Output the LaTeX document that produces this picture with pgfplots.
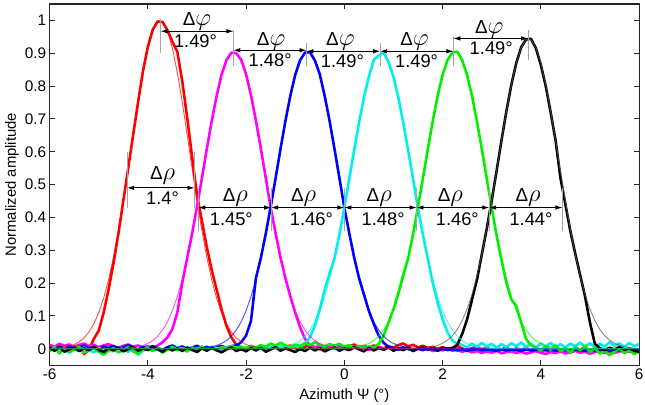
\documentclass[border=0pt]{standalone}
\usepackage{pgfplots}
\pgfplotsset{compat=1.18}
\usepackage{pgfplotstable}
\usepackage{fontspec}
\setmainfont{Liberation Sans}
\usetikzlibrary{arrows.meta}

% measured beams (normalized), one column per beam
\pgfplotstableread{
x r m b c g k
-6.0 0.008 0.012 0.003 -0.006 -0.008 0.002
-5.9 0.003 0.006 -0.004 0.004 0.005 -0.006
-5.8 0.010 0.015 0.006 -0.010 -0.014 0.005
-5.7 0.002 0.009 0.000 -0.002 0.002 -0.009
-5.6 -0.003 0.013 0.008 -0.012 -0.010 -0.002
-5.5 0.006 0.004 -0.002 0.001 -0.003 0.004
-5.4 0.012 0.011 0.004 -0.007 0.006 -0.007
-5.3 -0.016 0.016 0.010 0.003 -0.012 0.001
-5.2 -0.004 0.008 0.001 -0.004 -0.004 -0.004
-5.1 0.030 0.012 0.005 -0.011 0.003 0.006
-5.0 0.055 0.005 -0.003 0.002 -0.009 -0.003
-4.9 0.110 0.010 0.007 -0.005 -0.018 -0.010
-4.8 0.180 0.014 0.002 -0.001 -0.006 0.002
-4.7 0.260 0.007 0.009 -0.008 0.002 -0.005
-4.6 0.350 0.003 -0.001 0.004 -0.011 0.004
-4.5 0.450 0.009 0.004 -0.003 -0.004 -0.008
-4.4 0.550 0.013 0.011 -0.009 0.005 -0.001
-4.3 0.650 0.006 0.003 0.000 -0.008 0.005
-4.2 0.750 0.010 -0.002 -0.018 -0.015 -0.006
-4.1 0.845 0.004 0.006 -0.006 -0.002 0.001
-4.0 0.920 0.008 0.001 0.003 0.004 -0.004
-3.9 0.972 0.002 0.008 -0.004 -0.007 0.006
-3.8 0.997 0.010 0.002 0.001 0.001 -0.002
-3.7 0.995 0.020 -0.003 -0.007 -0.012 -0.009
-3.6 0.970 0.035 0.005 0.002 -0.003 0.003
-3.5 0.935 0.060 0.010 -0.003 0.006 -0.005
-3.4 0.905 0.110 0.003 0.005 -0.005 0.002
-3.3 0.815 0.200 0.007 -0.002 0.002 -0.007
-3.2 0.705 0.276 -0.001 0.003 -0.009 0.004
-3.1 0.585 0.350 0.004 -0.005 0.004 -0.003
-3.0 0.468 0.432 0.009 0.001 -0.002 -0.010
-2.9 0.390 0.519 0.002 0.004 0.007 0.001
-2.8 0.310 0.608 0.006 -0.002 -0.004 -0.006
-2.7 0.240 0.693 0.001 0.006 0.003 0.003
-2.6 0.180 0.770 0.005 0.002 -0.006 -0.004
-2.5 0.120 0.834 0.008 -0.001 0.005 -0.011
-2.4 0.070 0.879 0.003 0.005 0.001 -0.002
-2.3 0.035 0.902 0.008 0.001 0.008 0.004
-2.2 0.012 0.900 0.010 0.004 0.003 -0.007
-2.1 0.004 0.880 0.020 -0.002 0.006 -0.001
-2.0 -0.002 0.836 0.040 0.003 0.002 -0.008
-1.9 0.006 0.772 0.085 0.006 0.009 0.002
-1.8 0.001 0.695 0.215 0.001 0.004 -0.005
-1.7 0.009 0.610 0.276 0.004 0.011 0.003
-1.6 -0.004 0.521 0.350 -0.001 0.006 -0.009
-1.5 0.003 0.430 0.432 0.005 0.016 -0.002
-1.4 0.007 0.352 0.519 0.002 0.009 0.005
-1.3 -0.001 0.278 0.608 0.007 0.018 -0.006
-1.2 0.005 0.215 0.693 0.003 0.010 0.001
-1.1 0.010 0.160 0.770 0.005 0.005 -0.004
-1.0 0.002 0.110 0.834 0.008 0.013 -0.010
-0.9 -0.003 0.065 0.879 0.006 0.008 0.000
-0.8 0.006 0.030 0.902 0.015 0.017 -0.007
-0.7 0.012 0.010 0.903 0.035 0.011 0.003
-0.6 0.004 0.004 0.878 0.070 0.020 -0.005
-0.5 -0.002 0.009 0.836 0.120 0.012 0.002
-0.4 0.008 -0.002 0.770 0.180 0.007 -0.008
-0.3 0.003 0.006 0.694 0.230 0.014 -0.001
-0.2 0.011 0.001 0.608 0.275 0.009 0.004
-0.1 0.005 0.008 0.520 0.348 0.015 -0.006
0.0 -0.001 0.003 0.430 0.429 0.006 0.001
0.1 0.007 -0.004 0.352 0.517 0.011 -0.004
0.2 0.013 0.005 0.278 0.605 0.004 0.005
0.3 0.004 0.000 0.215 0.689 0.009 -0.002
0.4 0.009 0.007 0.165 0.766 0.002 -0.008
0.5 0.002 -0.003 0.115 0.829 0.007 0.003
0.6 0.010 0.002 0.075 0.880 0.003 -0.005
0.7 0.006 0.006 0.040 0.893 0.015 0.002
0.8 0.001 -0.001 0.018 0.902 0.040 -0.003
0.9 0.008 0.004 0.006 0.872 0.080 0.004
1.0 0.003 -0.005 0.002 0.828 0.120 -0.006
1.1 0.011 0.001 -0.003 0.765 0.170 0.001
1.2 0.016 -0.002 0.004 0.688 0.225 -0.004
1.3 0.007 0.003 -0.001 0.604 0.276 0.003
1.4 0.012 -0.006 -0.005 0.516 0.350 -0.007
1.5 0.004 0.000 0.001 0.428 0.432 0.000
1.6 0.009 -0.004 -0.004 0.347 0.519 0.004
1.7 0.002 0.002 0.003 0.274 0.608 -0.003
1.8 0.006 -0.007 -0.002 0.200 0.693 0.002
1.9 0.000 -0.002 -0.006 0.140 0.770 -0.005
2.0 0.005 -0.005 0.000 0.090 0.834 0.003
2.1 -0.002 0.001 -0.004 0.050 0.879 0.000
2.2 0.003 -0.006 -0.001 0.025 0.902 0.002
2.3 0.008 -0.003 -0.005 0.015 0.905 0.012
2.4 0.001 -0.009 -0.002 0.012 0.878 0.045
2.5 -0.004 -0.005 -0.006 0.004 0.833 0.090
2.6 0.002 -0.011 -0.003 0.016 0.770 0.150
2.7 0.006 -0.007 -0.001 0.006 0.692 0.210
2.8 -0.001 -0.013 -0.005 0.018 0.607 0.288
2.9 0.003 -0.008 -0.002 0.007 0.518 0.366
3.0 -0.005 -0.012 -0.004 0.015 0.430 0.451
3.1 0.002 -0.006 -0.006 0.003 0.345 0.542
3.2 -0.002 -0.014 -0.003 0.014 0.270 0.635
3.3 0.004 -0.010 -0.005 0.005 0.200 0.724
3.4 -0.006 -0.008 -0.002 0.017 0.150 0.804
3.5 0.001 -0.013 -0.004 0.008 0.130 0.870
3.6 -0.003 -0.009 -0.006 0.019 0.080 0.918
3.7 0.002 -0.015 -0.003 0.006 0.030 0.942
3.8 -0.004 -0.011 -0.005 0.015 0.010 0.944
3.9 0.000 -0.007 -0.004 0.004 0.004 0.915
4.0 -0.007 -0.012 -0.002 0.016 -0.006 0.865
4.1 -0.002 -0.016 -0.005 0.007 0.008 0.800
4.2 -0.009 -0.010 -0.003 0.018 -0.003 0.720
4.3 -0.004 -0.013 -0.006 0.005 0.010 0.635
4.4 -0.010 -0.008 -0.004 0.014 -0.008 0.520
4.5 -0.006 -0.014 -0.002 0.003 0.002 0.440
4.6 -0.012 -0.011 -0.005 0.016 -0.012 0.360
4.7 -0.005 -0.006 -0.003 0.008 0.005 0.290
4.8 -0.009 -0.012 -0.004 0.019 -0.004 0.225
4.9 -0.003 -0.009 -0.006 0.006 0.009 0.160
5.0 -0.008 -0.015 -0.003 0.017 -0.010 0.080
5.1 -0.001 -0.010 -0.005 0.004 0.003 0.015
5.2 -0.006 -0.007 -0.002 0.015 -0.015 0.002
5.3 -0.011 -0.013 -0.004 0.007 -0.006 -0.004
5.4 -0.004 -0.009 -0.006 0.020 -0.020 0.003
5.5 -0.013 -0.012 -0.003 0.009 -0.009 -0.002
5.6 -0.007 -0.006 -0.005 0.016 0.002 0.005
5.7 -0.002 -0.011 -0.004 0.005 -0.013 -0.003
5.8 -0.009 -0.008 -0.002 0.018 -0.005 0.001
5.9 -0.004 -0.010 -0.005 0.008 -0.016 -0.006
6.0 -0.010 -0.007 -0.003 0.014 -0.008 -0.010
}\meas

% fitted beam patterns
\pgfplotstableread{
x r m b c g k
-6.0 0.001 0 0 0 0 0
-5.9 0.001 0 0 0 0 0
-5.8 0.003 0 0 0 0 0
-5.7 0.005 0 0 0 0 0
-5.6 0.008 0 0 0 0 0
-5.5 0.013 0 0 0 0 0
-5.4 0.021 0 0 0 0 0
-5.3 0.033 0 0 0 0 0
-5.2 0.051 0 0 0 0 0
-5.1 0.076 0 0 0 0 0
-5.0 0.110 0 0 0 0 0
-4.9 0.154 0 0 0 0 0
-4.8 0.210 0 0 0 0 0
-4.7 0.279 0 0 0 0 0
-4.6 0.360 0.001 0 0 0 0
-4.5 0.451 0.001 0 0 0 0
-4.4 0.550 0.002 0 0 0 0
-4.3 0.652 0.004 0 0 0 0
-4.2 0.751 0.006 0 0 0 0
-4.1 0.841 0.010 0 0 0 0
-4.0 0.915 0.016 0 0 0 0
-3.9 0.969 0.025 0 0 0 0
-3.8 0.997 0.038 0 0 0 0
-3.7 0.997 0.057 0 0 0 0
-3.6 0.969 0.082 0 0 0 0
-3.5 0.915 0.116 0 0 0 0
-3.4 0.841 0.159 0 0 0 0
-3.3 0.751 0.212 0 0 0 0
-3.2 0.652 0.276 0 0 0 0
-3.1 0.550 0.350 0.001 0 0 0
-3.0 0.451 0.432 0.001 0 0 0
-2.9 0.360 0.519 0.002 0 0 0
-2.8 0.279 0.608 0.004 0 0 0
-2.7 0.210 0.693 0.006 0 0 0
-2.6 0.154 0.770 0.010 0 0 0
-2.5 0.110 0.834 0.016 0 0 0
-2.4 0.076 0.879 0.025 0 0 0
-2.3 0.051 0.902 0.038 0 0 0
-2.2 0.033 0.902 0.057 0 0 0
-2.1 0.021 0.879 0.082 0 0 0
-2.0 0.013 0.834 0.116 0 0 0
-1.9 0.008 0.770 0.159 0 0 0
-1.8 0.005 0.693 0.212 0 0 0
-1.7 0.003 0.608 0.276 0 0 0
-1.6 0.001 0.519 0.350 0.001 0 0
-1.5 0.001 0.432 0.432 0.001 0 0
-1.4 0 0.350 0.519 0.002 0 0
-1.3 0 0.276 0.608 0.004 0 0
-1.2 0 0.212 0.693 0.006 0 0
-1.1 0 0.159 0.770 0.010 0 0
-1.0 0 0.116 0.834 0.016 0 0
-0.9 0 0.082 0.879 0.025 0 0
-0.8 0 0.057 0.902 0.038 0 0
-0.7 0 0.038 0.902 0.057 0 0
-0.6 0 0.025 0.879 0.082 0 0
-0.5 0 0.016 0.834 0.115 0 0
-0.4 0 0.010 0.770 0.158 0 0
-0.3 0 0.006 0.693 0.211 0 0
-0.2 0 0.004 0.608 0.275 0 0
-0.1 0 0.002 0.519 0.348 0.001 0
0.0 0 0.001 0.432 0.429 0.001 0
0.1 0 0.001 0.350 0.516 0.002 0
0.2 0 0 0.276 0.605 0.004 0
0.3 0 0 0.212 0.689 0.006 0
0.4 0 0 0.159 0.766 0.010 0
0.5 0 0 0.116 0.829 0.016 0
0.6 0 0 0.082 0.874 0.025 0
0.7 0 0 0.057 0.897 0.038 0
0.8 0 0 0.038 0.897 0.057 0
0.9 0 0 0.025 0.874 0.082 0
1.0 0 0 0.016 0.829 0.116 0
1.1 0 0 0.010 0.766 0.159 0
1.2 0 0 0.006 0.689 0.212 0
1.3 0 0 0.004 0.605 0.276 0
1.4 0 0 0.002 0.516 0.350 0.001
1.5 0 0 0.001 0.429 0.432 0.001
1.6 0 0 0.001 0.348 0.519 0.002
1.7 0 0 0 0.275 0.608 0.004
1.8 0 0 0 0.211 0.693 0.006
1.9 0 0 0 0.158 0.770 0.010
2.0 0 0 0 0.115 0.834 0.017
2.1 0 0 0 0.082 0.879 0.026
2.2 0 0 0 0.057 0.902 0.040
2.3 0 0 0 0.038 0.902 0.059
2.4 0 0 0 0.025 0.879 0.086
2.5 0 0 0 0.016 0.834 0.121
2.6 0 0 0 0.010 0.770 0.166
2.7 0 0 0 0.006 0.693 0.222
2.8 0 0 0 0.004 0.608 0.288
2.9 0 0 0 0.002 0.519 0.365
3.0 0 0 0 0.001 0.432 0.451
3.1 0 0 0 0.001 0.350 0.542
3.2 0 0 0 0 0.276 0.635
3.3 0 0 0 0 0.212 0.724
3.4 0 0 0 0 0.159 0.804
3.5 0 0 0 0 0.116 0.870
3.6 0 0 0 0 0.082 0.917
3.7 0 0 0 0 0.057 0.942
3.8 0 0 0 0 0.038 0.942
3.9 0 0 0 0 0.025 0.917
4.0 0 0 0 0 0.016 0.870
4.1 0 0 0 0 0.010 0.804
4.2 0 0 0 0 0.006 0.724
4.3 0 0 0 0 0.004 0.635
4.4 0 0 0 0 0.002 0.542
4.5 0 0 0 0 0.001 0.451
4.6 0 0 0 0 0.001 0.365
4.7 0 0 0 0 0 0.288
4.8 0 0 0 0 0 0.222
4.9 0 0 0 0 0 0.166
5.0 0 0 0 0 0 0.121
5.1 0 0 0 0 0 0.086
5.2 0 0 0 0 0 0.059
5.3 0 0 0 0 0 0.040
5.4 0 0 0 0 0 0.026
5.5 0 0 0 0 0 0.017
5.6 0 0 0 0 0 0.010
5.7 0 0 0 0 0 0.006
5.8 0 0 0 0 0 0.004
5.9 0 0 0 0 0 0.002
6.0 0 0 0 0 0 0.001
}\fits

\definecolor{mred}{RGB}{255,0,0}
\definecolor{mmag}{RGB}{255,0,255}
\definecolor{mblue}{RGB}{0,0,255}
\definecolor{mcyan}{RGB}{0,238,238}
\definecolor{mgreen}{RGB}{0,240,0}
\definecolor{mblack}{RGB}{0,0,0}

\newcommand{\dphi}{{\fontsize{19}{21}\selectfont Δ}{\fontsize{25}{27}\selectfont$\varphi$}}
\newcommand{\drho}{{\fontsize{19}{21}\selectfont Δ}{\fontsize{25}{27}\selectfont$\rho$}}

\tikzset{
  meas/.style={line width=2.6bp, line join=round},
  fit/.style={line width=0.9bp, opacity=0.7},
  dim/.style={{Latex[length=7bp,width=4.5bp]}-{Latex[length=7bp,width=4.5bp]}, line width=0.8bp, black},
  guide/.style={gray!70, line width=0.4bp},
  big/.style={font=\fontsize{18.5}{20}\selectfont, inner sep=0pt},
}

\begin{document}
\begin{tikzpicture}
\useasboundingbox (-50bp,-40bp) rectangle (600bp,368bp);
\begin{axis}[
  at={(0,0)}, anchor=south west,
  width=594bp, height=364bp, scale only axis,
  xmin=-6, xmax=6, ymin=-0.05, ymax=1.05,
  xtick={-6,-4,-2,0,2,4,6},
  ytick={0,0.1,0.2,0.3,0.4,0.5,0.6,0.7,0.8,0.9,1},
  yticklabels={0,0.1,0.2,0.3,0.4,0.5,0.6,0.7,0.8,0.9,1},
  tick align=inside, xtick pos=both, ytick pos=both,
  major tick length=5bp,
  axis line style={line width=1.1bp, black!85},
  tick style={line width=0.9bp, black!85},
  /pgf/number format/assume math mode=true,
  ticklabel style={font=\fontsize{15.5}{17}\selectfont},
  xlabel={Azimuth Ψ (°)},
  ylabel={Normalized amplitude},
  label style={font=\fontsize{15}{17}\selectfont},
  xlabel style={yshift=-2bp},
  ylabel style={yshift=-1bp},
  clip=true,
]
% measured
\addplot[meas, mred]   table[x=x, y=r] {\meas};
\addplot[meas, mmag]   table[x=x, y=m] {\meas};
\addplot[meas, mblue]  table[x=x, y=b] {\meas};
\addplot[meas, mcyan]  table[x=x, y=c] {\meas};
\addplot[meas, mgreen] table[x=x, y=g] {\meas};
\addplot[meas, mblack] table[x=x, y=k] {\meas};
% fits
\addplot[fit, mred]   table[x=x, y=r] {\fits};
\addplot[fit, mmag]   table[x=x, y=m] {\fits};
\addplot[fit, mblue]  table[x=x, y=b] {\fits};
\addplot[fit, mcyan]  table[x=x, y=c] {\fits};
\addplot[fit, mgreen] table[x=x, y=g] {\fits};
\addplot[fit, black!65] table[x=x, y=k] {\fits};

% guide lines at peaks
\draw[guide] (axis cs:-3.74,0.90) -- (axis cs:-3.74,1.005);
\draw[guide] (axis cs:-2.26,0.86) -- (axis cs:-2.26,0.97);
\draw[guide] (axis cs:-0.77,0.86) -- (axis cs:-0.77,0.93);
\draw[guide] (axis cs:0.73,0.86) -- (axis cs:0.73,0.93);
\draw[guide] (axis cs:2.22,0.86) -- (axis cs:2.22,0.95);
\draw[guide] (axis cs:3.74,0.88) -- (axis cs:3.74,0.97);
% guide lines at crossings
\draw[guide] (axis cs:-4.42,0.43) -- (axis cs:-4.42,0.60);
\draw[guide] (axis cs:-3.05,0.43) -- (axis cs:-3.05,0.60);
\draw[guide] (axis cs:-2.97,0.36) -- (axis cs:-2.97,0.49);
\draw[guide] (axis cs:-1.49,0.36) -- (axis cs:-1.49,0.49);
\draw[guide] (axis cs:0.0,0.36) -- (axis cs:0.0,0.49);
\draw[guide] (axis cs:1.47,0.36) -- (axis cs:1.47,0.49);
\draw[guide] (axis cs:2.95,0.36) -- (axis cs:2.95,0.49);
\draw[guide] (axis cs:4.44,0.36) -- (axis cs:4.44,0.49);

% peak spacing
\draw[dim] (axis cs:-3.74,0.967) -- (axis cs:-2.26,0.967);
\node[big, anchor=base] at (axis cs:-3.00,0.983) {\dphi};
\node[big, anchor=base] at (axis cs:-3.03,0.918) {1.49°};
\draw[dim] (axis cs:-2.26,0.909) -- (axis cs:-0.77,0.909);
\node[big, anchor=base] at (axis cs:-1.49,0.925) {\dphi};
\node[big, anchor=base] at (axis cs:-1.51,0.860) {1.48°};
\draw[dim] (axis cs:-0.77,0.906) -- (axis cs:0.73,0.906);
\node[big, anchor=base] at (axis cs:-0.08,0.922) {\dphi};
\node[big, anchor=base] at (axis cs:-0.04,0.857) {1.49°};
\draw[dim] (axis cs:0.73,0.906) -- (axis cs:2.22,0.906);
\node[big, anchor=base] at (axis cs:1.43,0.922) {\dphi};
\node[big, anchor=base] at (axis cs:1.47,0.857) {1.49°};
\draw[dim] (axis cs:2.22,0.945) -- (axis cs:3.74,0.945);
\node[big, anchor=base] at (axis cs:2.95,0.961) {\dphi};
\node[big, anchor=base] at (axis cs:2.99,0.896) {1.49°};

% beam widths
\draw[dim] (axis cs:-4.42,0.49) -- (axis cs:-3.05,0.49);
\node[big, anchor=base] at (axis cs:-3.70,0.515) {\drho};
\node[big, anchor=base] at (axis cs:-3.70,0.440) {1.4°};
\draw[dim] (axis cs:-2.97,0.43) -- (axis cs:-1.49,0.43);
\node[big, anchor=base] at (axis cs:-2.22,0.448) {\drho};
\node[big, anchor=base] at (axis cs:-2.30,0.376) {1.45°};
\draw[dim] (axis cs:-1.49,0.43) -- (axis cs:0.0,0.43);
\node[big, anchor=base] at (axis cs:-0.83,0.448) {\drho};
\node[big, anchor=base] at (axis cs:-0.67,0.376) {1.46°};
\draw[dim] (axis cs:0.0,0.43) -- (axis cs:1.47,0.43);
\node[big, anchor=base] at (axis cs:0.71,0.448) {\drho};
\node[big, anchor=base] at (axis cs:0.79,0.376) {1.48°};
\draw[dim] (axis cs:1.47,0.43) -- (axis cs:2.95,0.43);
\node[big, anchor=base] at (axis cs:2.16,0.448) {\drho};
\node[big, anchor=base] at (axis cs:2.30,0.376) {1.46°};
\draw[dim] (axis cs:2.95,0.43) -- (axis cs:4.44,0.43);
\node[big, anchor=base] at (axis cs:3.74,0.448) {\drho};
\node[big, anchor=base] at (axis cs:3.80,0.376) {1.44°};
\end{axis}
\end{tikzpicture}
\end{document}
